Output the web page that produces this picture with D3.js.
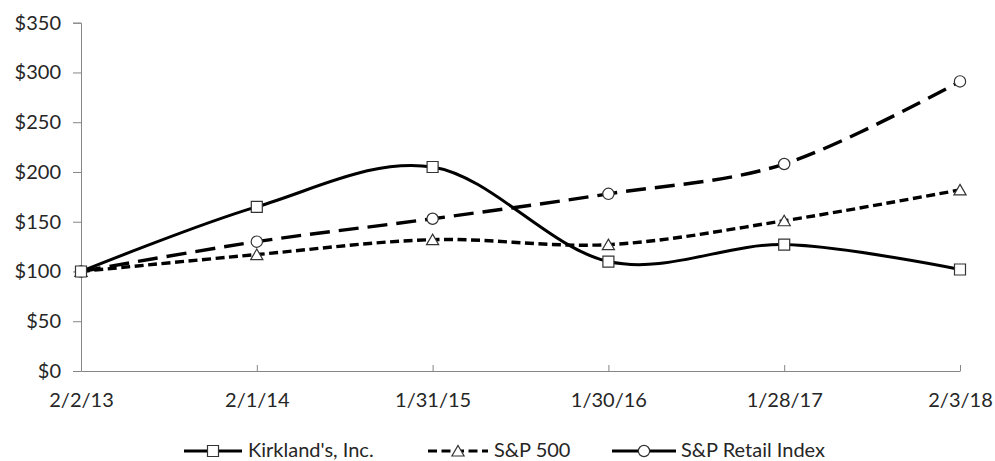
<!DOCTYPE html>
<html><head><meta charset="utf-8">
<script src="https://cdn.jsdelivr.net/npm/d3@7"></script>
<style>
html,body{margin:0;padding:0;background:#fff;}
svg text{font-family:Lato,"Open Sans",sans-serif;fill:#262626;}
</style>
</head><body>
<svg id="chart" width="995" height="461"></svg>
<script>
const categories = ["2/2/13","2/1/14","1/31/15","1/30/16","1/28/17","2/3/18"];
const kirklands = [100,165,205,110,127,102];
const sp500 = [100,117,132,127,151,182];
const spRetail = [100,130,153,178,208,291];
const yTicks = [0,50,100,150,200,250,300,350];
const seriesNames = ["Kirkland's, Inc.","S&P 500","S&P Retail Index"];

const series = [
  {name:seriesNames[0], values:kirklands, dash:null, marker:"square"},
  {name:seriesNames[1], values:sp500, dash:"9,4.5", marker:"triangle"},
  {name:seriesNames[2], values:spRetail, dash:"20,9", marker:"circle"}
];

const svg = d3.select("#chart");
const x = d3.scalePoint().domain(categories).range([81, 960]);
const y = d3.scaleLinear().domain([0,350]).range([371, 22.7]);
const axisColor = "#868686";

// Y axis
const yAxis = svg.append("g").attr("transform","translate(81,0)")
  .call(d3.axisLeft(y).tickValues(yTicks).tickFormat(d=>"$"+d).tickSize(8).tickPadding(12));
yAxis.select(".domain").attr("stroke",axisColor);
yAxis.selectAll(".tick line").attr("stroke",axisColor);
yAxis.selectAll("text").attr("font-size","20px").attr("fill","#262626").style("font-family","Lato, sans-serif");

// X axis
const xAxis = svg.append("g").attr("transform","translate(0,371)")
  .call(d3.axisBottom(x).tickSizeInner(-6).tickSizeOuter(0).tickPadding(22));
xAxis.select(".domain").attr("stroke",axisColor);
xAxis.selectAll(".tick line").attr("stroke",axisColor);
xAxis.selectAll("text").attr("font-size","20px").attr("fill","#262626").style("font-family","Lato, sans-serif");

const line = d3.line().x((d,i)=>x(categories[i])).y(d=>y(d)).curve(d3.curveCardinal.tension(0));

const sym = {
  square: d3.symbol().type(d3.symbolSquare).size(121),
  triangle: d3.symbol().type(d3.symbolTriangle).size(64),
  circle: d3.symbol().type(d3.symbolCircle).size(100)
};

// lines
series.forEach(s=>{
  svg.append("path").datum(s.values).attr("d",line)
    .attr("fill","none").attr("stroke","#000").attr("stroke-width",s.dash?3.4:3)
    .attr("stroke-dasharray",s.dash);
});
// markers
series.slice().reverse().forEach(s=>{
  svg.append("g").selectAll("path").data(s.values).join("path")
    .attr("d",sym[s.marker]())
    .attr("transform",(d,i)=>`translate(${x(categories[i])},${y(d)+(s.marker==="triangle"?1.5:0)})`)
    .attr("fill","#fff").attr("stroke","#333").attr("stroke-width",1.2);
});

// legend
const legendItems = [
  {x0:184, x1:242, textX:248},
  {x0:428, x1:488, textX:494},
  {x0:612, x1:676, textX:681}
];
const ly = 451;
series.forEach((s,i)=>{
  const L = legendItems[i];
  const g = svg.append("g");
  g.append("line").attr("x1",L.x0).attr("x2",L.x1).attr("y1",ly).attr("y2",ly)
    .attr("stroke","#000").attr("stroke-width",3)
    .attr("stroke-dasharray", i===1 ? "9,4.5" : null);
  g.append("path").attr("d",sym[s.marker]())
    .attr("transform",`translate(${(L.x0+L.x1)/2},${ly+(s.marker==="triangle"?1.5:0)})`)
    .attr("fill","#fff").attr("stroke","#333").attr("stroke-width",1.2);
  g.append("text").attr("x",L.textX).attr("y",456.5)
    .attr("font-size","20px").text(s.name);
});
</script>
</body></html>
